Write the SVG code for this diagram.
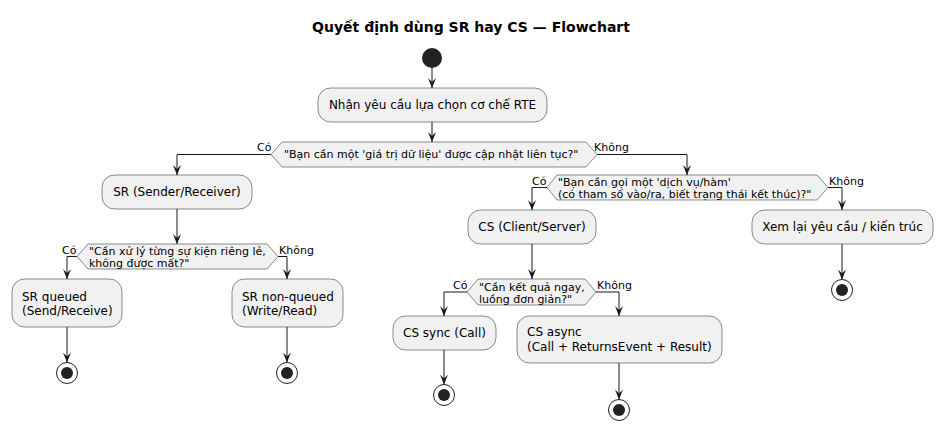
<svg xmlns="http://www.w3.org/2000/svg" width="943" height="430" viewBox="0 0 943 430">
<defs>
<marker id="ah" viewBox="0 0 10 8" refX="10" refY="4" markerWidth="10" markerHeight="8" markerUnits="userSpaceOnUse" orient="auto">
<path d="M0,0 L10,4 L0,8 L4,4 Z" fill="#181818"/>
</marker>
</defs>
<style>
.t{font-family:"DejaVu Sans",sans-serif;fill:#000}
.title{font-size:14px;font-weight:bold}
.bx{font-size:12px}
.dt{font-size:11px}
.lb{font-size:11px}
.box{fill:#F1F1F1;stroke:#181818;stroke-width:0.5}
.dia{fill:#F1F1F1;stroke:#181818;stroke-width:0.5}
.edge{fill:none;stroke:#181818;stroke-width:1}
.arrow{marker-end:url(#ah)}
.stopo{fill:none;stroke:#222;stroke-width:1}
.stopi{fill:#222}
</style>
<rect width="943" height="430" fill="#FFFFFF"/>
<text class="t title" x="471" y="32" text-anchor="middle">Quyết định dùng SR hay CS — Flowchart</text>

<g id="start"><circle cx="432" cy="58" r="10" fill="#222"/></g>

<g id="n_request"><rect class="box" x="318" y="88" width="229" height="34" rx="12.5"/><text class="t bx" x="432.5" y="109" text-anchor="middle">Nhận yêu cầu lựa chọn cơ chế RTE</text></g>

<g id="d_value"><polygon class="dia" points="271,154.5 282,142 586,142 597,154.5 586,167 282,167"/><text class="t dt" x="284" y="158">"Bạn cần một 'giá trị dữ liệu' được cập nhật liên tục?"</text></g>

<g id="n_sr"><rect class="box" x="102" y="175" width="150" height="34" rx="12.5"/><text class="t bx" x="177" y="196" text-anchor="middle">SR (Sender/Receiver)</text></g>

<g id="d_event"><polygon class="dia" points="77,256.5 88,244 267,244 278,256.5 267,269 88,269"/><text class="t dt" x="89" y="255">"Cần xử lý từng sự kiện riêng lẻ,</text><text class="t dt" x="89" y="267">không được mất?"</text></g>

<g id="n_srq"><rect class="box" x="12" y="279" width="110" height="48" rx="12.5"/><text class="t bx" x="22" y="300.5">SR queued</text><text class="t bx" x="22" y="315">(Send/Receive)</text></g>
<g id="stop_srq"><circle class="stopo" cx="67" cy="373" r="10.5"/><circle class="stopi" cx="67" cy="373" r="6"/></g>

<g id="n_srnq"><rect class="box" x="232" y="279" width="111" height="48" rx="12.5"/><text class="t bx" x="242" y="300.5">SR non-queued</text><text class="t bx" x="242" y="315">(Write/Read)</text></g>
<g id="stop_srnq"><circle class="stopo" cx="287" cy="373" r="10.5"/><circle class="stopi" cx="287" cy="373" r="6"/></g>

<g id="d_service"><polygon class="dia" points="547,187.5 557,175 817,175 828,187.5 817,200 557,200"/><text class="t dt" x="558" y="185.5">"Bạn cần gọi một 'dịch vụ/hàm'</text><text class="t dt" x="558" y="198">(có tham số vào/ra, biết trạng thái kết thúc)?"</text></g>

<g id="n_cs"><rect class="box" x="468" y="210" width="128" height="34" rx="12.5"/><text class="t bx" x="532" y="231" text-anchor="middle">CS (Client/Server)</text></g>

<g id="n_review"><rect class="box" x="752" y="210" width="181" height="34" rx="12.5"/><text class="t bx" x="842.5" y="231" text-anchor="middle">Xem lại yêu cầu / kiến trúc</text></g>
<g id="stop_review"><circle class="stopo" cx="842" cy="290" r="10.5"/><circle class="stopi" cx="842" cy="290" r="6"/></g>

<g id="d_sync"><polygon class="dia" points="467,292 478,279 585,279 596,292 585,305 478,305"/><text class="t dt" x="479" y="290.5">"Cần kết quả ngay,</text><text class="t dt" x="479" y="303">luồng đơn giản?"</text></g>

<g id="n_cssync"><rect class="box" x="393" y="316" width="103" height="34" rx="12.5"/><text class="t bx" x="444.5" y="337" text-anchor="middle">CS sync (Call)</text></g>
<g id="stop_cssync"><circle class="stopo" cx="444" cy="395" r="10.5"/><circle class="stopi" cx="444" cy="395" r="6"/></g>

<g id="n_csasync"><rect class="box" x="517" y="316" width="205" height="47" rx="12.5"/><text class="t bx" x="527" y="336">CS async</text><text class="t bx" x="527" y="351">(Call + ReturnsEvent + Result)</text></g>
<g id="stop_csasync"><circle class="stopo" cx="619" cy="410" r="10.5"/><circle class="stopi" cx="619" cy="410" r="6"/></g>

<g id="connectors">
<path class="edge arrow" d="M432,68 L432,88"/>
<path class="edge arrow" d="M432,122 L432,142"/>
<path class="edge arrow" d="M271,154.5 L177,154.5 L177,175"/>
<text class="t lb" x="257" y="151">Có</text>
<path class="edge arrow" d="M597,154.5 L687,154.5 L687,175"/>
<text class="t lb" x="594" y="151">Không</text>
<path class="edge arrow" d="M177,209 L177,244"/>
<path class="edge arrow" d="M77,256.5 L67,256.5 L67,279"/>
<text class="t lb" x="62" y="254">Có</text>
<path class="edge arrow" d="M278,256.5 L287,256.5 L287,279"/>
<text class="t lb" x="279" y="254">Không</text>
<path class="edge arrow" d="M67,327 L67,362.5"/>
<path class="edge arrow" d="M287,327 L287,362.5"/>
<path class="edge arrow" d="M547,187.5 L532,187.5 L532,210"/>
<text class="t lb" x="532" y="184.5">Có</text>
<path class="edge arrow" d="M828,187.5 L842,187.5 L842,210"/>
<text class="t lb" x="829" y="184.5">Không</text>
<path class="edge arrow" d="M842,244 L842,279.5"/>
<path class="edge arrow" d="M532,244 L532,279"/>
<path class="edge arrow" d="M467,292 L444,292 L444,316"/>
<text class="t lb" x="453" y="289">Có</text>
<path class="edge arrow" d="M596,292 L619,292 L619,316"/>
<text class="t lb" x="597" y="289">Không</text>
<path class="edge arrow" d="M444,350 L444,384.5"/>
<path class="edge arrow" d="M619,363 L619,399.5"/>
</g>
</svg>
